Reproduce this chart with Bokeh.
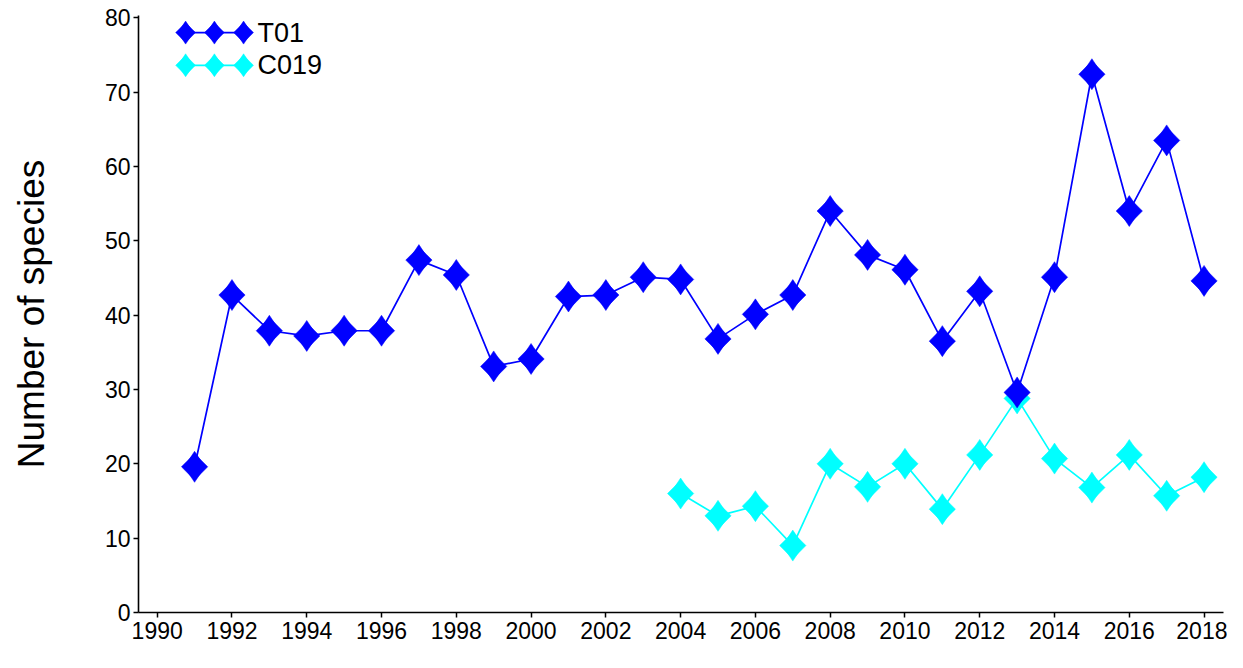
import math
from bokeh.plotting import figure
from bokeh.models import Range1d, FixedTicker, ColumnDataSource
from bokeh.embed import file_html
from bokeh.resources import INLINE
from bokeh.core.properties import value

# ---- data ----
years_t01 = list(range(1991, 2019))
t01 = [19.6, 42.7, 37.9, 37.2, 37.9, 37.9, 47.4, 45.4, 33.1, 34.1,
       42.5, 42.7, 45.1, 44.8, 36.8, 40.1, 42.7, 54.0, 48.1, 46.1,
       36.5, 43.2, 29.6, 45.1, 72.4, 54.0, 63.5, 44.6]
years_c019 = list(range(2004, 2019))
c019 = [16.0, 13.0, 14.3, 9.0, 20.0, 16.9, 20.0, 13.9, 21.2, 28.8,
        20.7, 16.8, 21.2, 15.7, 18.2]
series_names = ["T01", "C019"]
series_colors = ["#0000FF", "#00FFFF"]
x_ticks = list(range(1990, 2019, 2))
y_ticks = list(range(0, 81, 10))
y_label = "Number of species"

FONT = "Liberation Sans"

p = figure(width=1227, height=652,
           x_range=Range1d(1989.5, 2018.52), y_range=Range1d(0, 80.3),
           output_backend="svg", toolbar_location=None,
           min_border_left=138, min_border_right=4,
           min_border_top=15, min_border_bottom=40)
p.outline_line_color = None
p.xgrid.visible = False
p.ygrid.visible = False
p.background_fill_color = "white"
p.border_fill_color = "white"

p.xaxis.ticker = FixedTicker(ticks=x_ticks)
p.yaxis.ticker = FixedTicker(ticks=y_ticks)
for ax in (p.xaxis, p.yaxis):
    ax.axis_line_width = 1.6
    ax.axis_line_color = "black"
    ax.major_tick_line_width = 1.5
    ax.major_tick_line_color = "black"
    ax.major_tick_in = 0
    ax.major_tick_out = 5
    ax.minor_tick_in = 0
    ax.minor_tick_out = 0
    ax.major_label_text_font = FONT
    ax.major_label_text_font_size = "23px"
    ax.major_label_text_color = "black"
p.xaxis.major_label_standoff = 4
p.yaxis.major_label_standoff = 3
p.yaxis.axis_label = y_label
p.yaxis.axis_label_text_font = FONT
p.yaxis.axis_label_text_font_size = "37px"
p.yaxis.axis_label_text_font_style = "normal"
p.yaxis.axis_label_text_color = "black"
p.yaxis.axis_label_standoff = 50


def draw_series(xs, ys, color, msize, line_w):
    src = ColumnDataSource(dict(x=xs, y=ys))
    p.line("x", "y", source=src, line_color=color, line_width=line_w)
    p.scatter("x", "y", source=src, marker="diamond", size=msize,
              fill_color=color, line_color=color, line_width=0.5)
    p.scatter("x", "y", source=src, marker="square", size=msize * 0.6,
              angle=math.pi / 4, fill_color=color, line_color=color,
              line_width=0.5)


draw_series(years_c019, c019, series_colors[1], 31, 1.7)
draw_series(years_t01, t01, series_colors[0], 31, 1.7)

# ---- legend (three diamonds joined by a line, as in the original) ----
legend_x = [1990.76, 1991.53, 1992.31]
legend_y = [78.0, 73.6]
legend_text_x = 1992.68
for name, color, ly in zip(series_names, series_colors, legend_y):
    src = ColumnDataSource(dict(x=legend_x, y=[ly] * len(legend_x)))
    p.line("x", "y", source=src, line_color=color, line_width=1.7)
    p.scatter("x", "y", source=src, marker="diamond", size=23,
              fill_color=color, line_color=color, line_width=0.5)
    p.scatter("x", "y", source=src, marker="square", size=14,
              angle=math.pi / 4, fill_color=color, line_color=color,
              line_width=0.5)
    p.text(x=[legend_text_x], y=[ly], text=[name],
           text_font=value(FONT), text_font_size="27px",
           text_baseline="middle", text_align="left", text_color="black")

open("out.html", "w").write(file_html(p, INLINE))
